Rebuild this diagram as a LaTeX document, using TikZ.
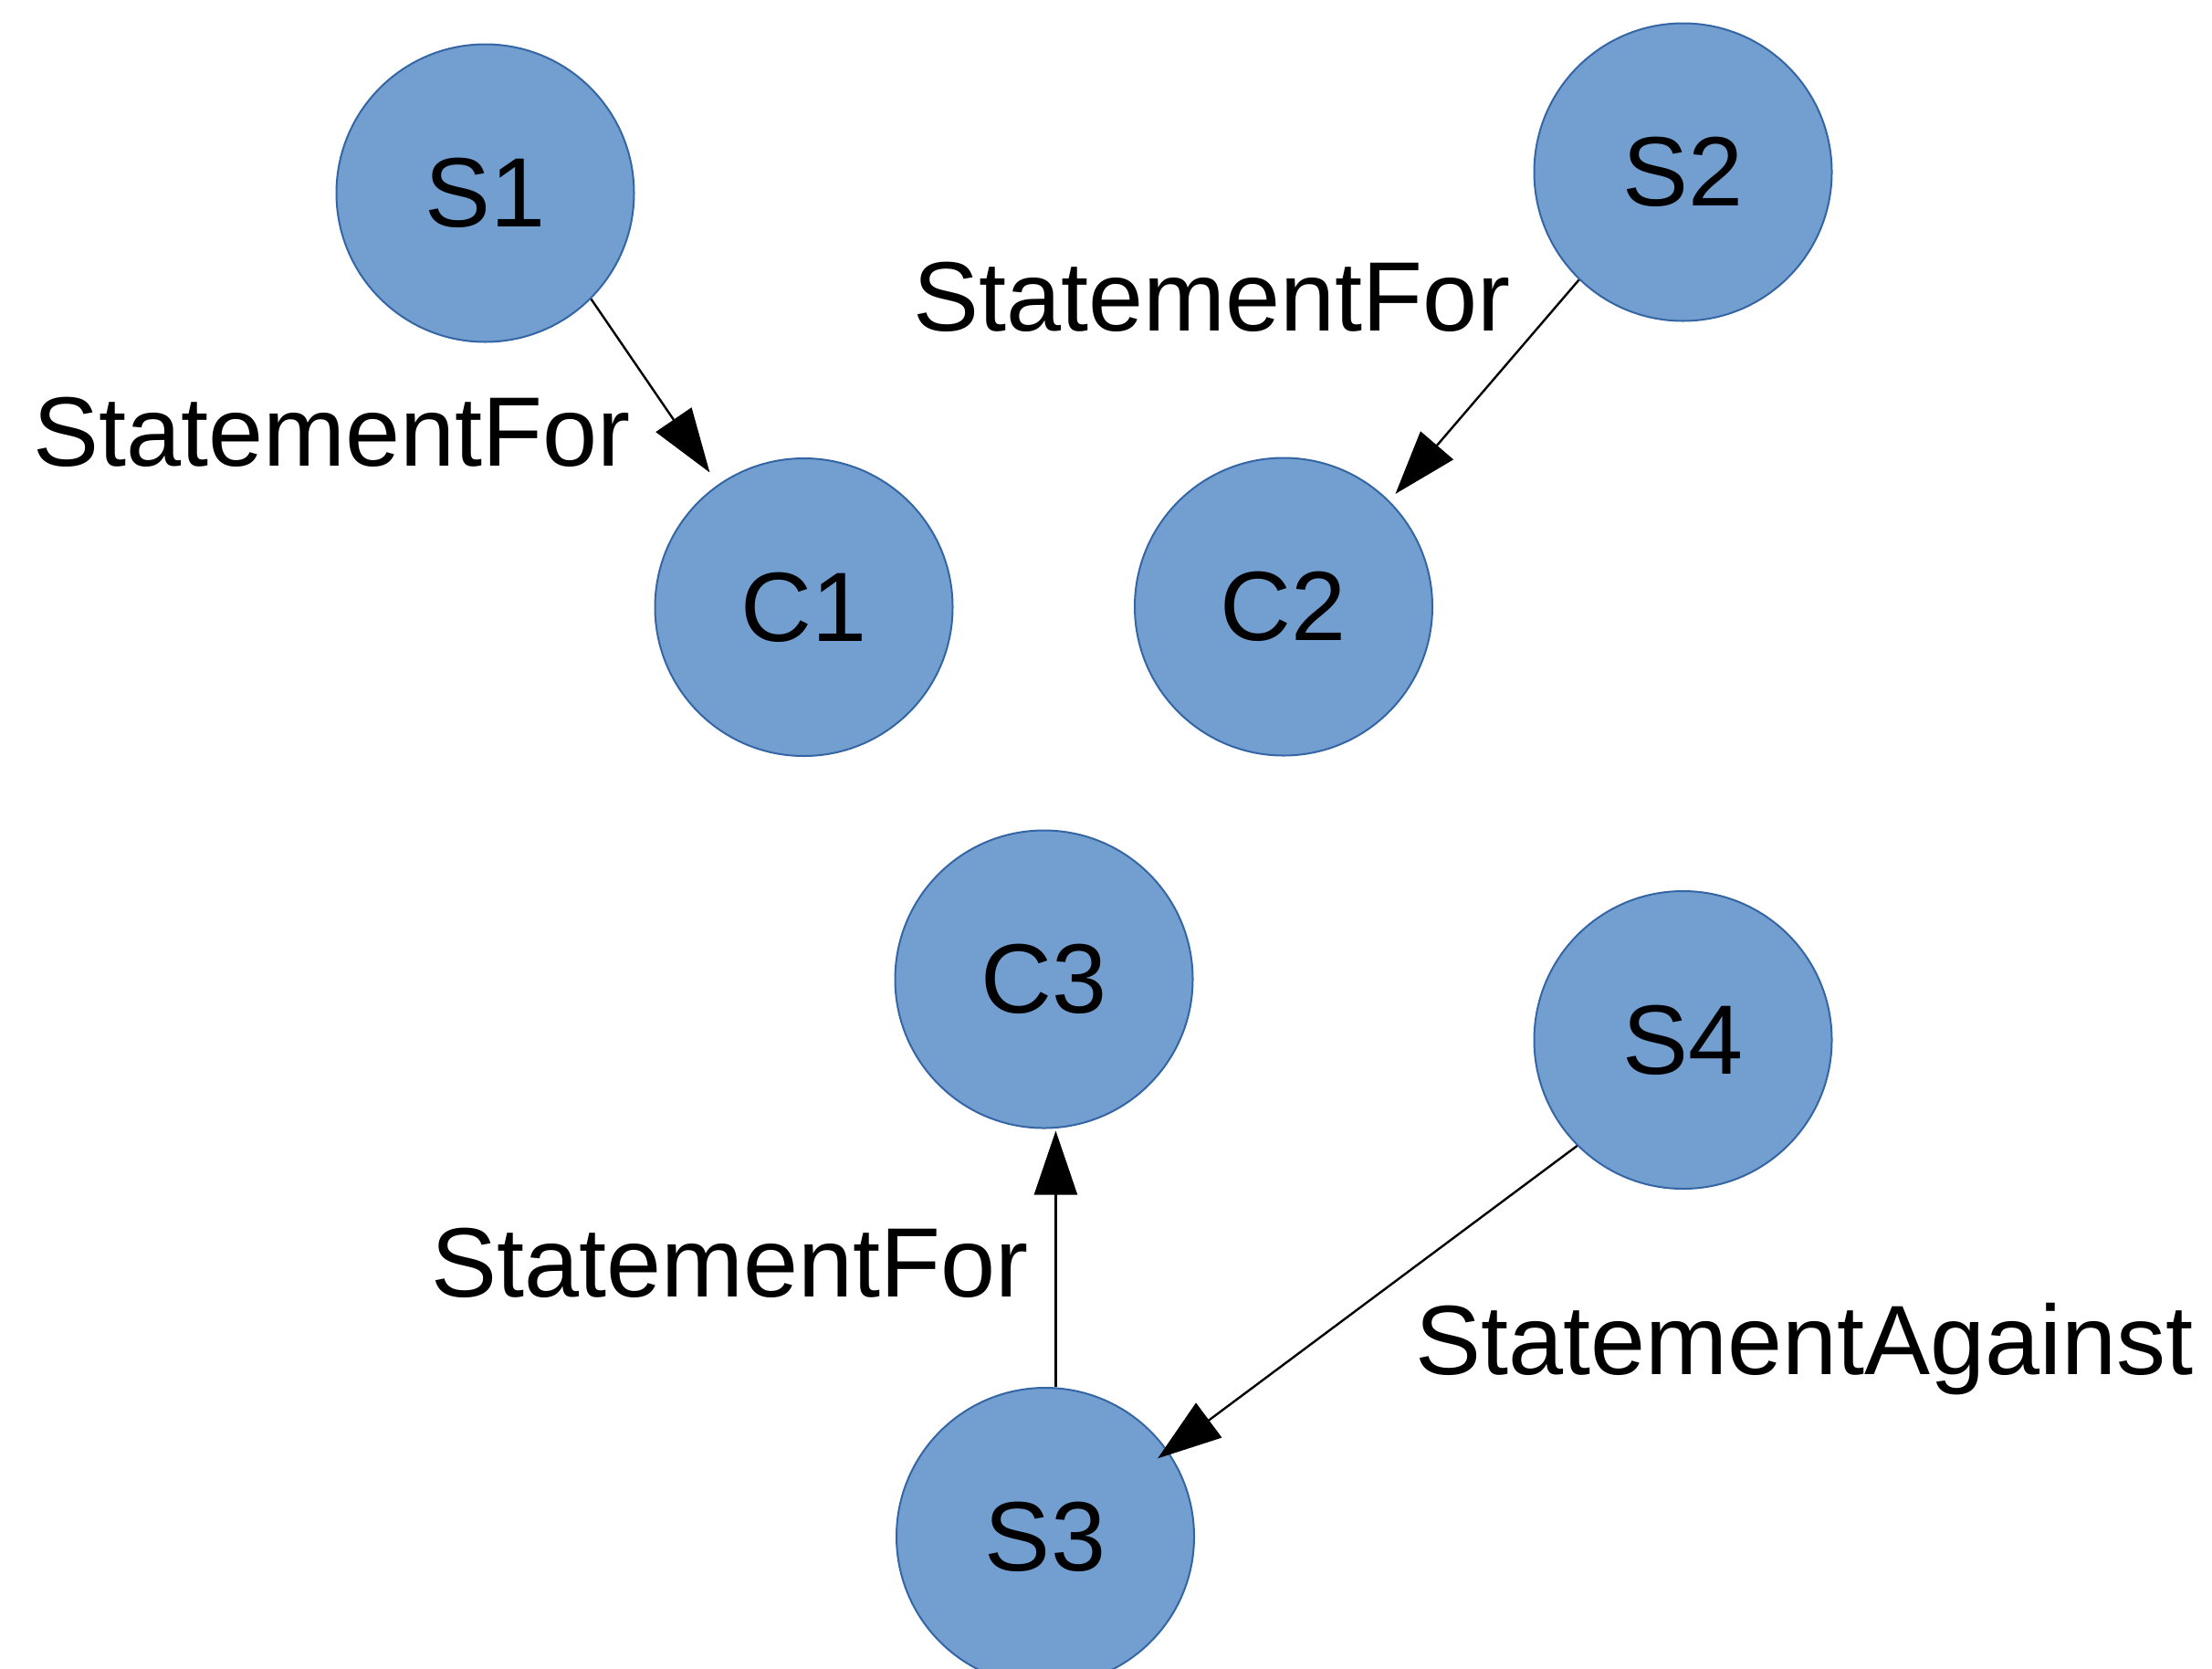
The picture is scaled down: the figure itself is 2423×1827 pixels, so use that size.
\documentclass[tikz,border=0pt]{standalone}
\usepackage{fontspec}
\setmainfont{Liberation Sans}
\usetikzlibrary{arrows.meta}
\definecolor{nodefill}{HTML}{729FCF}
\definecolor{nodeline}{HTML}{3465A4}
\begin{document}
\begin{tikzpicture}[x=0.5pt,y=-0.5pt,
  every node/.style={font=\fontsize{54}{60}\selectfont},
  concept/.style={circle, fill=nodefill, draw=nodeline, line width=1pt,
                  minimum size=163pt, inner sep=0pt},
  link/.style={draw=black, line width=1.2pt,
               -{Triangle[length=35pt,width=23.5pt]}},
  edgelabel/.style={inner sep=0pt, anchor=base west}]
\useasboundingbox (0,0) rectangle (2423,1827);
\clip (0,0) rectangle (2423,1827);

% statements and claims
\node[concept] (S1) at (531.5,211.5) {S1};
\node[concept] (C1) at (880.5,665) {C1};
\node[concept] (S2) at (1843.5,188.5) {S2};
\node[concept] (C2) at (1406,664.5) {C2};
\node[concept] (C3) at (1143.5,1072.5) {C3};
\node[concept] (S4) at (1843.5,1139) {S4};
\node[concept] (S3) at (1145,1683) {S3};

% relations
\draw[link, shorten >=8pt] (S1.-45) -- (C1.125);
\draw[link, shorten >=5pt] (S2.-134) -- (C2.45);
\draw[link, shorten >=1pt] (S3.86) -- (S3.86 |- C3.south);
\draw[link, shorten >=-7pt] (S4.-135) -- (S3.35);

% relation names
\node[edgelabel] (l1) at (36,510) {StatementFor};
\node[edgelabel] (l2) at (1000,362) {StatementFor};
\node[edgelabel] (l3) at (472,1420) {StatementFor};
\node[edgelabel] (l4) at (1550,1505) {StatementAgainst};
\end{tikzpicture}
\end{document}
